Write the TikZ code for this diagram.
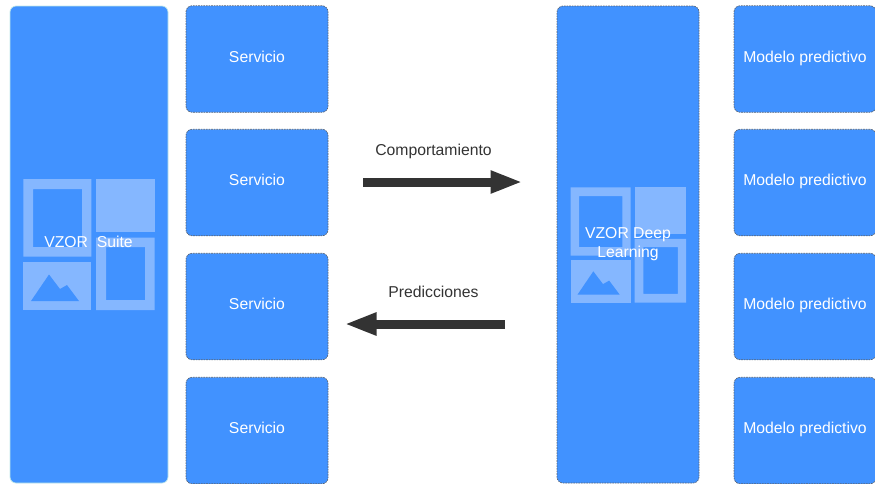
\documentclass[tikz,border=0pt]{standalone}
\usepackage{fontspec}
\setmainfont{Liberation Sans}
\usetikzlibrary{arrows.meta}

\definecolor{azul}{HTML}{4192FF}
\definecolor{azulclaro}{HTML}{85B7FF}
\definecolor{borde}{HTML}{5A6472}
\definecolor{tinta}{HTML}{333333}

\tikzset{
    caja/.style={rectangle, rounded corners=6pt, fill=azul, draw=borde, dash pattern=on 1.6pt off 1pt, line width=0.7pt,
        text=white, font=\fontsize{15.75}{19}\selectfont, text height=12.5pt, text depth=6pt, inner sep=0pt},
    servicio/.style={caja, minimum width=142pt, minimum height=106.5pt},
    modelo/.style={caja, minimum width=142pt, minimum height=106.5pt},
    panel/.style={caja, minimum height=477pt},
    rotulo/.style={text=white, font=\fontsize{15.75}{19}\selectfont, align=center, inner sep=0pt},
    etiqueta/.style={text=tinta, font=\fontsize{15.75}{19}\selectfont, inner sep=0pt},
    flecha/.style={draw=tinta, line width=9pt, -{Triangle[length=32pt, width=21pt]}},
    vzoricon/.pic={
        % origen en la esquina superior izquierda del icono
        \fill[azulclaro, even odd rule] (0, 0) rectangle (68, 77.5) (9.7, 10) rectangle (58.7, 68);
        \fill[azulclaro] (72.7, 0) rectangle (131.2, 53);
        \fill[azulclaro, even odd rule] (72.7, 58.5) rectangle (131.2, 131) (82.7, 68) rectangle (121.7, 121);
        \fill[azulclaro] (0, 82.5) rectangle (68, 131);
        \fill[azul] (7.7, 122) -- (25.7, 95.5) -- (36.7, 110) -- (43.7, 106) -- (55.7, 122) -- cycle;
    },
}

\begin{document}
\begin{tikzpicture}[x=1pt, y=-1pt]
    \useasboundingbox (0, 0) rectangle (875, 483);

    % columna izquierda
    \node[panel, minimum width=158pt, draw=green!30!azul!30, solid] (suite) at (89, 244.5) {};
    \pic at (23.3, 179) {vzoricon};
    \node[rotulo] (suitetxt) at (88.5, 242) {VZOR\ \ Suite};

    \node[servicio] (s1) at (257, 59) {Servicio};
    \node[servicio] (s2) at (257, 182.5) {Servicio};
    \node[servicio] (s3) at (257, 306.5) {Servicio};
    \node[servicio] (s4) at (257, 430.5) {Servicio};

    % columna derecha
    \node[panel, minimum width=142pt] (deep) at (628, 244.5) {};
    \pic[scale=0.88] at (570.7, 187.3) {vzoricon};
    \node[rotulo] (deeptxt) at (628, 244) {VZOR Deep\\Learning};

    \node[modelo] (m1) at (805, 59) {Modelo predictivo};
    \node[modelo] (m2) at (805, 182.5) {Modelo predictivo};
    \node[modelo] (m3) at (805, 306.5) {Modelo predictivo};
    \node[modelo] (m4) at (805, 430.5) {Modelo predictivo};

    % flechas del centro
    \coordinate (compA) at (363, 182);
    \coordinate (compB) at (522.5, 182);
    \coordinate (predA) at (505, 324);
    \coordinate (predB) at (344.5, 324);

    \draw[flecha] (compA) -- (compB);
    \draw[flecha] (predA) -- (predB);

    \node[etiqueta] (comp) at (433.5, 151) {Comportamiento};
    \node[etiqueta] (pred) at (433.5, 292) {Predicciones};
\end{tikzpicture}
\end{document}
